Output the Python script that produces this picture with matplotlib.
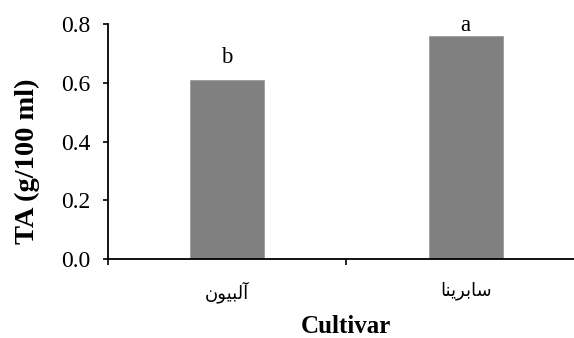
import matplotlib
matplotlib.use("Agg")
import matplotlib.pyplot as plt

# Cultivar names (Arabic-script presentation forms, in visual left-to-right order)
cultivars = ["\uFEE5\uFEEE\uFEF4\uFE92\uFEDF\uFE81",          # آلبیون
             "\uFE8E\uFEE8\uFEF3\uFEAE\uFE91\uFE8E\uFEB3"]    # سابرینا
ta_values = [0.61, 0.76]
letters = ["b", "a"]
y_ticks = [0.0, 0.2, 0.4, 0.6, 0.8]

serif = ["Liberation Serif", "DejaVu Serif"]

fig = plt.figure(figsize=(5.74, 3.38), dpi=100)
ax = fig.add_axes([107.5 / 574, 79 / 338, 477.5 / 574, 235 / 338])

x = list(range(len(cultivars)))
ax.bar(x, ta_values, width=0.31, color="#808080",
       edgecolor="#9a9a9a", linewidth=0.6, zorder=2)

# significance letters above the bars
letter_gap = [0.04, 0.0]
for xi, v, lt, g in zip(x, ta_values, letters, letter_gap):
    ax.text(xi, v + g, lt, ha="center", va="bottom",
            fontsize=16.5, family=serif, clip_on=False)

ax.set_xlim(-0.5, 1.5)
ax.set_ylim(0, 0.8)

# category separators as outward ticks, names on minor ticks
ax.set_xticks([-0.5, 0.5, 1.5])
ax.set_xticklabels([])
ax.set_xticks(x, minor=True)
ax.set_xticklabels(cultivars, minor=True, family=["DejaVu Sans"], fontsize=13)
ax.tick_params(axis="x", which="major", direction="out", length=4.5, width=1.2)
ax.tick_params(axis="x", which="minor", length=0, pad=16)

ax.set_yticks(y_ticks)
ax.set_yticklabels([f"{t:.1f}" for t in y_ticks], family=serif, fontsize=17)
ax.tick_params(axis="y", direction="out", length=3.5, width=1.2, pad=9)

for side in ("top", "right"):
    ax.spines[side].set_visible(False)
for side in ("left", "bottom"):
    ax.spines[side].set_linewidth(1.3)
    ax.spines[side].set_color("black")

ax.set_ylabel("TA (g/100 ml)", family=serif, fontsize=20.5, fontweight="bold",
              va="center")
ax.yaxis.set_label_coords(-0.168, 0.417)
ax.set_xlabel("Cultivar", family=serif, fontsize=18, fontweight="bold",
              labelpad=8.5)

fig.savefig("out.png", dpi=100)
